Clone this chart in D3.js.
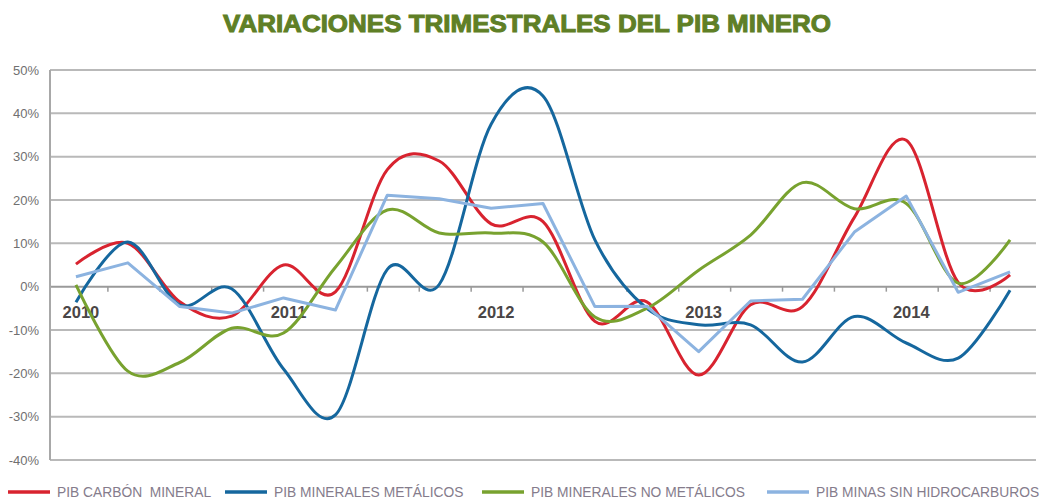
<!DOCTYPE html>
<html>
<head>
<meta charset="utf-8">
<title>Variaciones trimestrales del PIB minero</title>
<script src="https://cdn.jsdelivr.net/npm/d3@7"></script>
<style>
	body { margin: 0; background: #ffffff; }
	.title { font-family: "Liberation Sans", Arial, sans-serif; font-weight: bold; font-size: 24px; fill: #5f7f26; stroke: #5f7f26; stroke-width: 1px; }
	.ylab { font-family: "Liberation Sans", Arial, sans-serif; font-size: 13px; fill: #707070; text-anchor: end; }
	.xlab { font-family: "Liberation Sans", Arial, sans-serif; font-weight: bold; font-size: 16.5px; fill: #4a4646; text-anchor: middle; }
	.leg { font-family: "Liberation Sans", Arial, sans-serif; font-size: 13.8px; fill: #857c8c; }
</style>
</head>
<body>
<div id="chart"></div>
<script>
// quarters 2010-T1 .. 2014-T3
var quarters = ["2010-T1","2010-T2","2010-T3","2010-T4","2011-T1","2011-T2","2011-T3","2011-T4",
                "2012-T1","2012-T2","2012-T3","2012-T4","2013-T1","2013-T2","2013-T3","2013-T4",
                "2014-T1","2014-T2","2014-T3"];
var yearLabels = {"2010-T1": "2010", "2011-T1": "2011", "2012-T1": "2012", "2013-T1": "2013", "2014-T1": "2014"};
var yTicks = [50, 40, 30, 20, 10, 0, -10, -20, -30, -40];

var carbon    = [5.2, 10, -3.5, -6.8, 5, -1.2, 27, 29, 14.5, 15, -8, -3.5, -20.4, -4.2, -4.6, 16, 33.8, 1, 2.7];
var metalicos = [-3.6, 10.3, -4.2, -0.5, -19, -29.6, 4, 0.5, 37.5, 44, 10.8, -5, -8.8, -8.8, -17.4, -6.9, -13, -16.5, -0.8];
var noMetal   = [0.4, -19.5, -17.5, -9.6, -10.7, 4.5, 17.7, 12.4, 12.4, 10.3, -7, -5, 3.8, 11.9, 24, 18, 19.2, 0.8, 10.8];
var sinHidro  = [2.3, 5.5, -4.6, -6.1, -2.6, -5.4, 21.1, 20.3, 18.1, 19.2, -4.6, -4.5, -15, -3.3, -2.9, 12.6, 20.9, -1.3, 3.4];

var series = [
	{name: "PIB CARBÓN  MINERAL",          values: carbon,    color: "#d8232f", smooth: true},
	{name: "PIB MINERALES METÁLICOS",      values: metalicos, color: "#15679e", smooth: true},
	{name: "PIB MINERALES NO METÁLICOS",   values: noMetal,   color: "#78a22f", smooth: true},
	{name: "PIB MINAS SIN HIDROCARBUROS",  values: sinHidro,  color: "#8cb3e0", smooth: false}
];

var width = 1040, height = 499;
var plotLeft = 50, plotRight = 1036, plotTop = 70, plotBottom = 460;

var svg = d3.select("#chart").append("svg")
	.attr("width", width)
	.attr("height", height);

var x = d3.scaleBand().domain(quarters).range([plotLeft, plotRight]).padding(0);
var y = d3.scaleLinear().domain([-40, 50]).range([plotBottom, plotTop]);

svg.append("text")
	.attr("class", "title")
	.attr("x", 527)
	.attr("y", 32)
	.attr("text-anchor", "middle")
	.attr("textLength", 608)
	.attr("lengthAdjust", "spacingAndGlyphs")
	.text("VARIACIONES TRIMESTRALES DEL PIB MINERO");

// horizontal grid
svg.append("g")
	.selectAll("line")
	.data(yTicks)
	.join("line")
		.attr("x1", plotLeft)
		.attr("x2", plotRight)
		.attr("y1", function(d) { return y(d); })
		.attr("y2", function(d) { return y(d); })
		.attr("stroke", function(d) { return d == 0 ? "#9a9a9a" : "#b9b9b9"; })
		.attr("stroke-width", 2);

// y axis line
svg.append("line")
	.attr("x1", plotLeft).attr("x2", plotLeft)
	.attr("y1", plotTop).attr("y2", plotBottom)
	.attr("stroke", "#a8a8a8")
	.attr("stroke-width", 2);

svg.append("g")
	.selectAll("text")
	.data(yTicks)
	.join("text")
		.attr("class", "ylab")
		.attr("x", 39)
		.attr("y", function(d) { return y(d) + 4.5; })
		.text(function(d) { return d + "%"; });

// category ticks on the zero line
var bounds = quarters.slice(1).map(function(q) { return x(q) + 6; });
svg.append("g")
	.selectAll("line")
	.data(bounds)
	.join("line")
		.attr("x1", function(d) { return d; })
		.attr("x2", function(d) { return d; })
		.attr("y1", y(0))
		.attr("y2", y(0) + 5)
		.attr("stroke", "#9a9a9a")
		.attr("stroke-width", 1.5);

svg.append("g")
	.selectAll("text")
	.data(quarters.filter(function(q) { return yearLabels[q]; }))
	.join("text")
		.attr("class", "xlab")
		.attr("x", function(q) { return x(q) + x.bandwidth() / 2 + 5; })
		.attr("y", y(0) + 31)
		.text(function(q) { return yearLabels[q]; });

// lines
series.forEach(function(s) {
	var line = d3.line()
		.x(function(d, i) { return x(quarters[i]) + x.bandwidth() / 2; })
		.y(function(d) { return y(d); })
		.curve(s.smooth ? d3.curveCardinal.tension(0) : d3.curveLinear);

	svg.append("path")
		.datum(s.values)
		.attr("d", line)
		.attr("fill", "none")
		.attr("stroke", s.color)
		.attr("stroke-width", 3)
		.attr("stroke-linejoin", "round");
});

// legend
var legX = [8, 225, 482, 767];
var leg = svg.append("g")
	.selectAll("g")
	.data(series)
	.join("g")
		.attr("transform", function(d, i) { return "translate(" + legX[i] + ",492)"; });

leg.append("line")
	.attr("x1", 0).attr("x2", 42)
	.attr("stroke", function(d) { return d.color; })
	.attr("stroke-width", 3.5);

leg.append("text")
	.attr("class", "leg")
	.attr("x", 49)
	.attr("y", 5)
	.style("white-space", "pre")
	.text(function(d) { return d.name; });
</script>
</body>
</html>
